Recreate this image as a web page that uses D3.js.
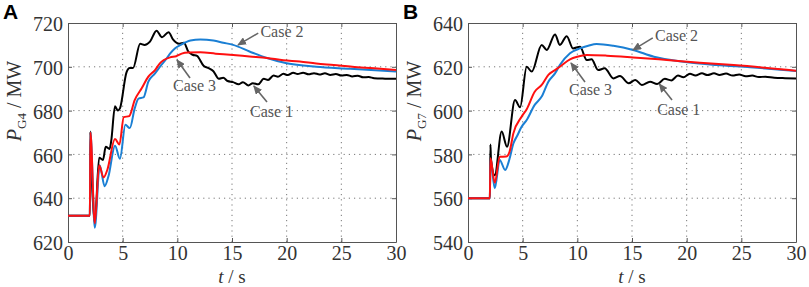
<!DOCTYPE html>
<html>
<head>
<meta charset="utf-8">
<script src="https://cdn.jsdelivr.net/npm/d3@7"></script>
<style>
  body { margin: 0; background: #fff; }
  svg { display: block; }
</style>
</head>
<body>
<svg id="chart" width="809" height="287"></svg>
<script>
// time (s), power (MW) pairs
const case1A = [[0,632],[2.0,632],[2.05,670.5],[2.1,661],[2.45,629],[2.85,658.5],[3.2,657.5],[3.45,663.5],[3.8,662.5],[3.95,666],[4.3,682],[4.55,680],[4.75,681],[5.35,697.5],[5.65,699.5],[5.95,699.5],[6.6,710.5],[7.0,710],[7.5,711.5],[8.1,716.5],[8.6,713.5],[9.2,715.8],[9.6,712.5],[10.2,710.5],[10.6,711],[11.0,707],[11.4,705.5],[11.8,705],[12.4,700.5],[12.8,699.5],[13.3,698],[13.8,694.5],[14.2,695],[14.6,693.5],[15.1,693],[15.6,692],[16.0,693],[16.5,691.5],[16.9,692.5],[17.4,692],[17.9,694.5],[18.3,694],[18.8,696],[19.2,695.5],[19.7,696.8],[20.1,696.2],[20.6,697.3],[21.0,696.7],[21.5,697.3],[22.0,696.6],[22.5,697.1],[23.0,696.5],[23.5,697],[24,696.3],[24.5,696.7],[25,696],[25.5,696.3],[26,695.6],[26.5,695.9],[27,695.2],[27.5,695.3],[28,694.8],[29,694.6],[30,694.5]];
const case2A = [[0,632],[2.0,632],[2.05,670],[2.45,626.5],[2.9,655],[3.35,645.5],[3.7,650],[4.3,664],[4.75,658],[5.25,673.5],[5.65,672],[6.1,681],[6.45,685.5],[6.9,686],[7.35,693.2],[7.96,697],[8.4,700],[8.9,703],[9.33,706],[9.8,708.5],[10.3,710],[11.2,712],[12.1,712.5],[13.3,712],[14.2,711],[15.1,710],[16.6,707],[18.2,704],[20,701.6],[22.7,700],[25.8,699.1],[30,697.8]];
const case3A = [[0,632],[2.0,632],[2.05,670],[2.45,628.5],[2.85,655],[3.25,649.5],[3.6,653],[4.3,667],[4.7,664.5],[5.1,677],[5.6,677.5],[6.1,684.8],[6.74,690.2],[7.35,695.5],[7.96,698.5],[8.4,701.6],[9.33,704.3],[9.9,704.8],[10.4,706],[11,706.5],[12.1,706.6],[13.5,706],[15.1,705.4],[16.6,704.7],[18.2,704],[19.7,703],[21.2,702.4],[22.7,701.5],[24.3,700.8],[26,700],[28,699.3],[30,698.5]];

const case1B = [[0,560],[2.0,560],[2.05,584.5],[2.1,578],[2.45,570.5],[3.08,590.4],[3.57,583.5],[4.3,604.8],[4.76,601.5],[5.37,620],[5.83,617.8],[6.74,630],[7.2,627.7],[7.96,634.8],[8.4,630],[9.03,634],[9.6,628.4],[10.25,629.2],[10.86,623.1],[11.3,623.4],[11.9,618.5],[12.5,619.3],[13.3,614.7],[13.9,615.8],[14.7,612.5],[15.3,614],[15.9,611.7],[16.65,613.2],[17.3,612.1],[18.0,614.5],[18.6,613.8],[19.2,616],[19.7,615.2],[20.3,616.8],[20.8,616],[21.4,617],[21.9,616.2],[22.5,617],[23.0,616.3],[23.6,616.9],[24.2,616],[24.8,616.5],[25.4,615.7],[26,616],[26.6,615.3],[27.2,615.5],[28,615],[29,614.8],[30,614.7]];
const case2B = [[0,560],[2.0,560],[2.05,578],[2.45,564.5],[2.9,577.4],[3.4,572.9],[3.8,578],[4.15,585],[4.5,588.5],[4.9,592.6],[5.37,595.7],[6.1,602.6],[6.74,606.4],[7.35,613.2],[7.96,617],[8.4,620.8],[9.33,626.2],[10.25,628.4],[11,629.6],[11.76,630.4],[13.3,629.6],[15.1,627.7],[17,624.6],[19.7,622.3],[22.7,620.8],[25.8,619.8],[30,618.1]];
const case3B = [[0,560],[2.0,560],[2.05,578.2],[2.45,567],[2.9,578.9],[3.5,579],[3.8,581.2],[4.15,589.6],[4.9,597.2],[5.37,600.6],[6.1,608.6],[6.74,611.7],[7.35,616.3],[7.96,618.5],[8.4,620],[9.33,623.4],[10.0,624.6],[10.86,625.4],[12.7,625.1],[15.1,624.3],[18.2,623.1],[21.2,621.9],[24.3,620.8],[30,618.2]];

const xTicks = [0, 5, 10, 15, 20, 25, 30];
const yTicksA = [620, 640, 660, 680, 700, 720];
const yTicksB = [540, 560, 580, 600, 620, 640];

// label text position and arrow tail -> head, in data units
const notesA = [
  {label: "Case 2", tx: 17.6, ty: 713.6, x1: 17.4, y1: 715.4, x2: 15.55, y2: 710},
  {label: "Case 3", tx: 9.6, ty: 689, x1: 11.16, y1: 694.9, x2: 9.97, y2: 703.1},
  {label: "Case 1", tx: 16.65, ty: 677.1, x1: 18.2, y1: 683.9, x2: 17.0, y2: 691.2}
];
const notesB = [
  {label: "Case 2", tx: 17.1, ty: 631.8, x1: 16.9, y1: 633.2, x2: 15.1, y2: 627.7},
  {label: "Case 3", tx: 9.24, ty: 607.1, x1: 10.7, y1: 613.1, x2: 9.42, y2: 621.7},
  {label: "Case 1", tx: 17.3, ty: 598, x1: 18.66, y1: 604.8, x2: 17.5, y2: 612.1}
];

const colors = {case1: "#000000", case2: "#1a7fd4", case3: "#ff1010"};
const serif = "'Liberation Serif', 'Times New Roman', serif";

const svg = d3.select("#chart");

svg.append("defs").append("marker")
    .attr("id", "arrow")
    .attr("viewBox", "0 -4 9 8")
    .attr("refX", 8)
    .attr("refY", 0)
    .attr("markerWidth", 9)
    .attr("markerHeight", 8)
    .attr("markerUnits", "userSpaceOnUse")
    .attr("orient", "auto")
    .append("path")
    .attr("d", "M0,-4L9,0L0,4Z")
    .attr("fill", "#666");

function drawPanel(opt) {
    const x = d3.scaleLinear().domain([0, 30]).range([opt.left, opt.left + 328]);
    const y = d3.scaleLinear().domain(opt.yDomain).range([242, 23]);
    const g = svg.append("g");

    // dotted grid
    g.selectAll("line.gx").data(xTicks.slice(1, -1)).join("line")
        .attr("x1", d => x(d)).attr("x2", d => x(d))
        .attr("y1", y.range()[0]).attr("y2", y.range()[1])
        .attr("stroke", "#777").attr("stroke-width", 1).attr("stroke-dasharray", "1.2,4");
    g.selectAll("line.gy").data(opt.yTicks.slice(1, -1)).join("line")
        .attr("x1", x.range()[0]).attr("x2", x.range()[1])
        .attr("y1", d => y(d)).attr("y2", d => y(d))
        .attr("stroke", "#777").attr("stroke-width", 1).attr("stroke-dasharray", "1.2,4");

    // axes, ticks pointing inward like matlab
    const xAxis = g.append("g").attr("transform", `translate(0,${y.range()[0]})`)
        .call(d3.axisBottom(x).tickValues(xTicks).tickSizeInner(-4).tickSizeOuter(0).tickPadding(6));
    const yAxis = g.append("g").attr("transform", `translate(${x.range()[0]},0)`)
        .call(d3.axisLeft(y).tickValues(opt.yTicks).tickSizeInner(-4).tickSizeOuter(0).tickPadding(5));
    g.append("g").attr("transform", `translate(0,${y.range()[1]})`)
        .call(d3.axisTop(x).tickValues(xTicks).tickSizeInner(-4).tickSizeOuter(0).tickFormat(""));
    g.append("g").attr("transform", `translate(${x.range()[1]},0)`)
        .call(d3.axisRight(y).tickValues(opt.yTicks).tickSizeInner(-4).tickSizeOuter(0).tickFormat(""));

    g.selectAll(".domain, .tick line").attr("stroke", "#555");
    g.selectAll(".tick text").attr("font-family", serif).attr("font-size", 20).attr("fill", "#333");
    xAxis.selectAll(".tick text").attr("dy", "0.6em");
    yAxis.selectAll(".tick text").attr("dy", "0.38em");

    // curves
    const line = d3.line().x(d => x(d[0])).y(d => y(d[1])).curve(d3.curveMonotoneX);
    opt.series.forEach(s => {
        g.append("path")
            .datum(s.values)
            .attr("d", line)
            .attr("fill", "none")
            .attr("stroke", s.color)
            .attr("stroke-width", 2)
            .attr("stroke-linejoin", "round");
    });

    // annotations
    opt.notes.forEach(n => {
        g.append("line")
            .attr("x1", x(n.x1)).attr("y1", y(n.y1))
            .attr("x2", x(n.x2)).attr("y2", y(n.y2))
            .attr("stroke", "#666").attr("stroke-width", 1.6)
            .attr("marker-end", "url(#arrow)");
        g.append("text")
            .attr("x", x(n.tx)).attr("y", y(n.ty))
            .attr("font-family", serif).attr("font-size", 16).attr("fill", "#555")
            .text(n.label);
    });

    // axis titles
    const yl = g.append("text")
        .attr("transform", `translate(${opt.left - 47},101) rotate(-90)`)
        .attr("text-anchor", "middle")
        .attr("font-family", serif).attr("font-size", 20).attr("fill", "#333");
    yl.append("tspan").attr("font-style", "italic").text("P");
    yl.append("tspan").attr("font-size", 13).attr("dy", 5).text(opt.sub);
    yl.append("tspan").attr("dy", -5).text(" / MW");

    const xl = g.append("text")
        .attr("x", (x.range()[0] + x.range()[1]) / 2)
        .attr("y", 282.5)
        .attr("text-anchor", "middle")
        .attr("font-family", serif).attr("font-size", 19).attr("fill", "#333");
    xl.append("tspan").attr("font-style", "italic").text("t");
    xl.append("tspan").text(" / s");

    svg.append("text")
        .attr("x", opt.left - 65).attr("y", 19)
        .attr("font-family", "'Liberation Sans', Arial, sans-serif")
        .attr("font-weight", "bold").attr("font-size", 21)
        .text(opt.tag);
}

drawPanel({
    tag: "A", left: 68, yDomain: [620, 720], yTicks: yTicksA, sub: "G4", notes: notesA,
    series: [
        {values: case1A, color: colors.case1},
        {values: case2A, color: colors.case2},
        {values: case3A, color: colors.case3}
    ]
});
drawPanel({
    tag: "B", left: 468, yDomain: [540, 640], yTicks: yTicksB, sub: "G7", notes: notesB,
    series: [
        {values: case1B, color: colors.case1},
        {values: case2B, color: colors.case2},
        {values: case3B, color: colors.case3}
    ]
});
</script>
</body>
</html>
